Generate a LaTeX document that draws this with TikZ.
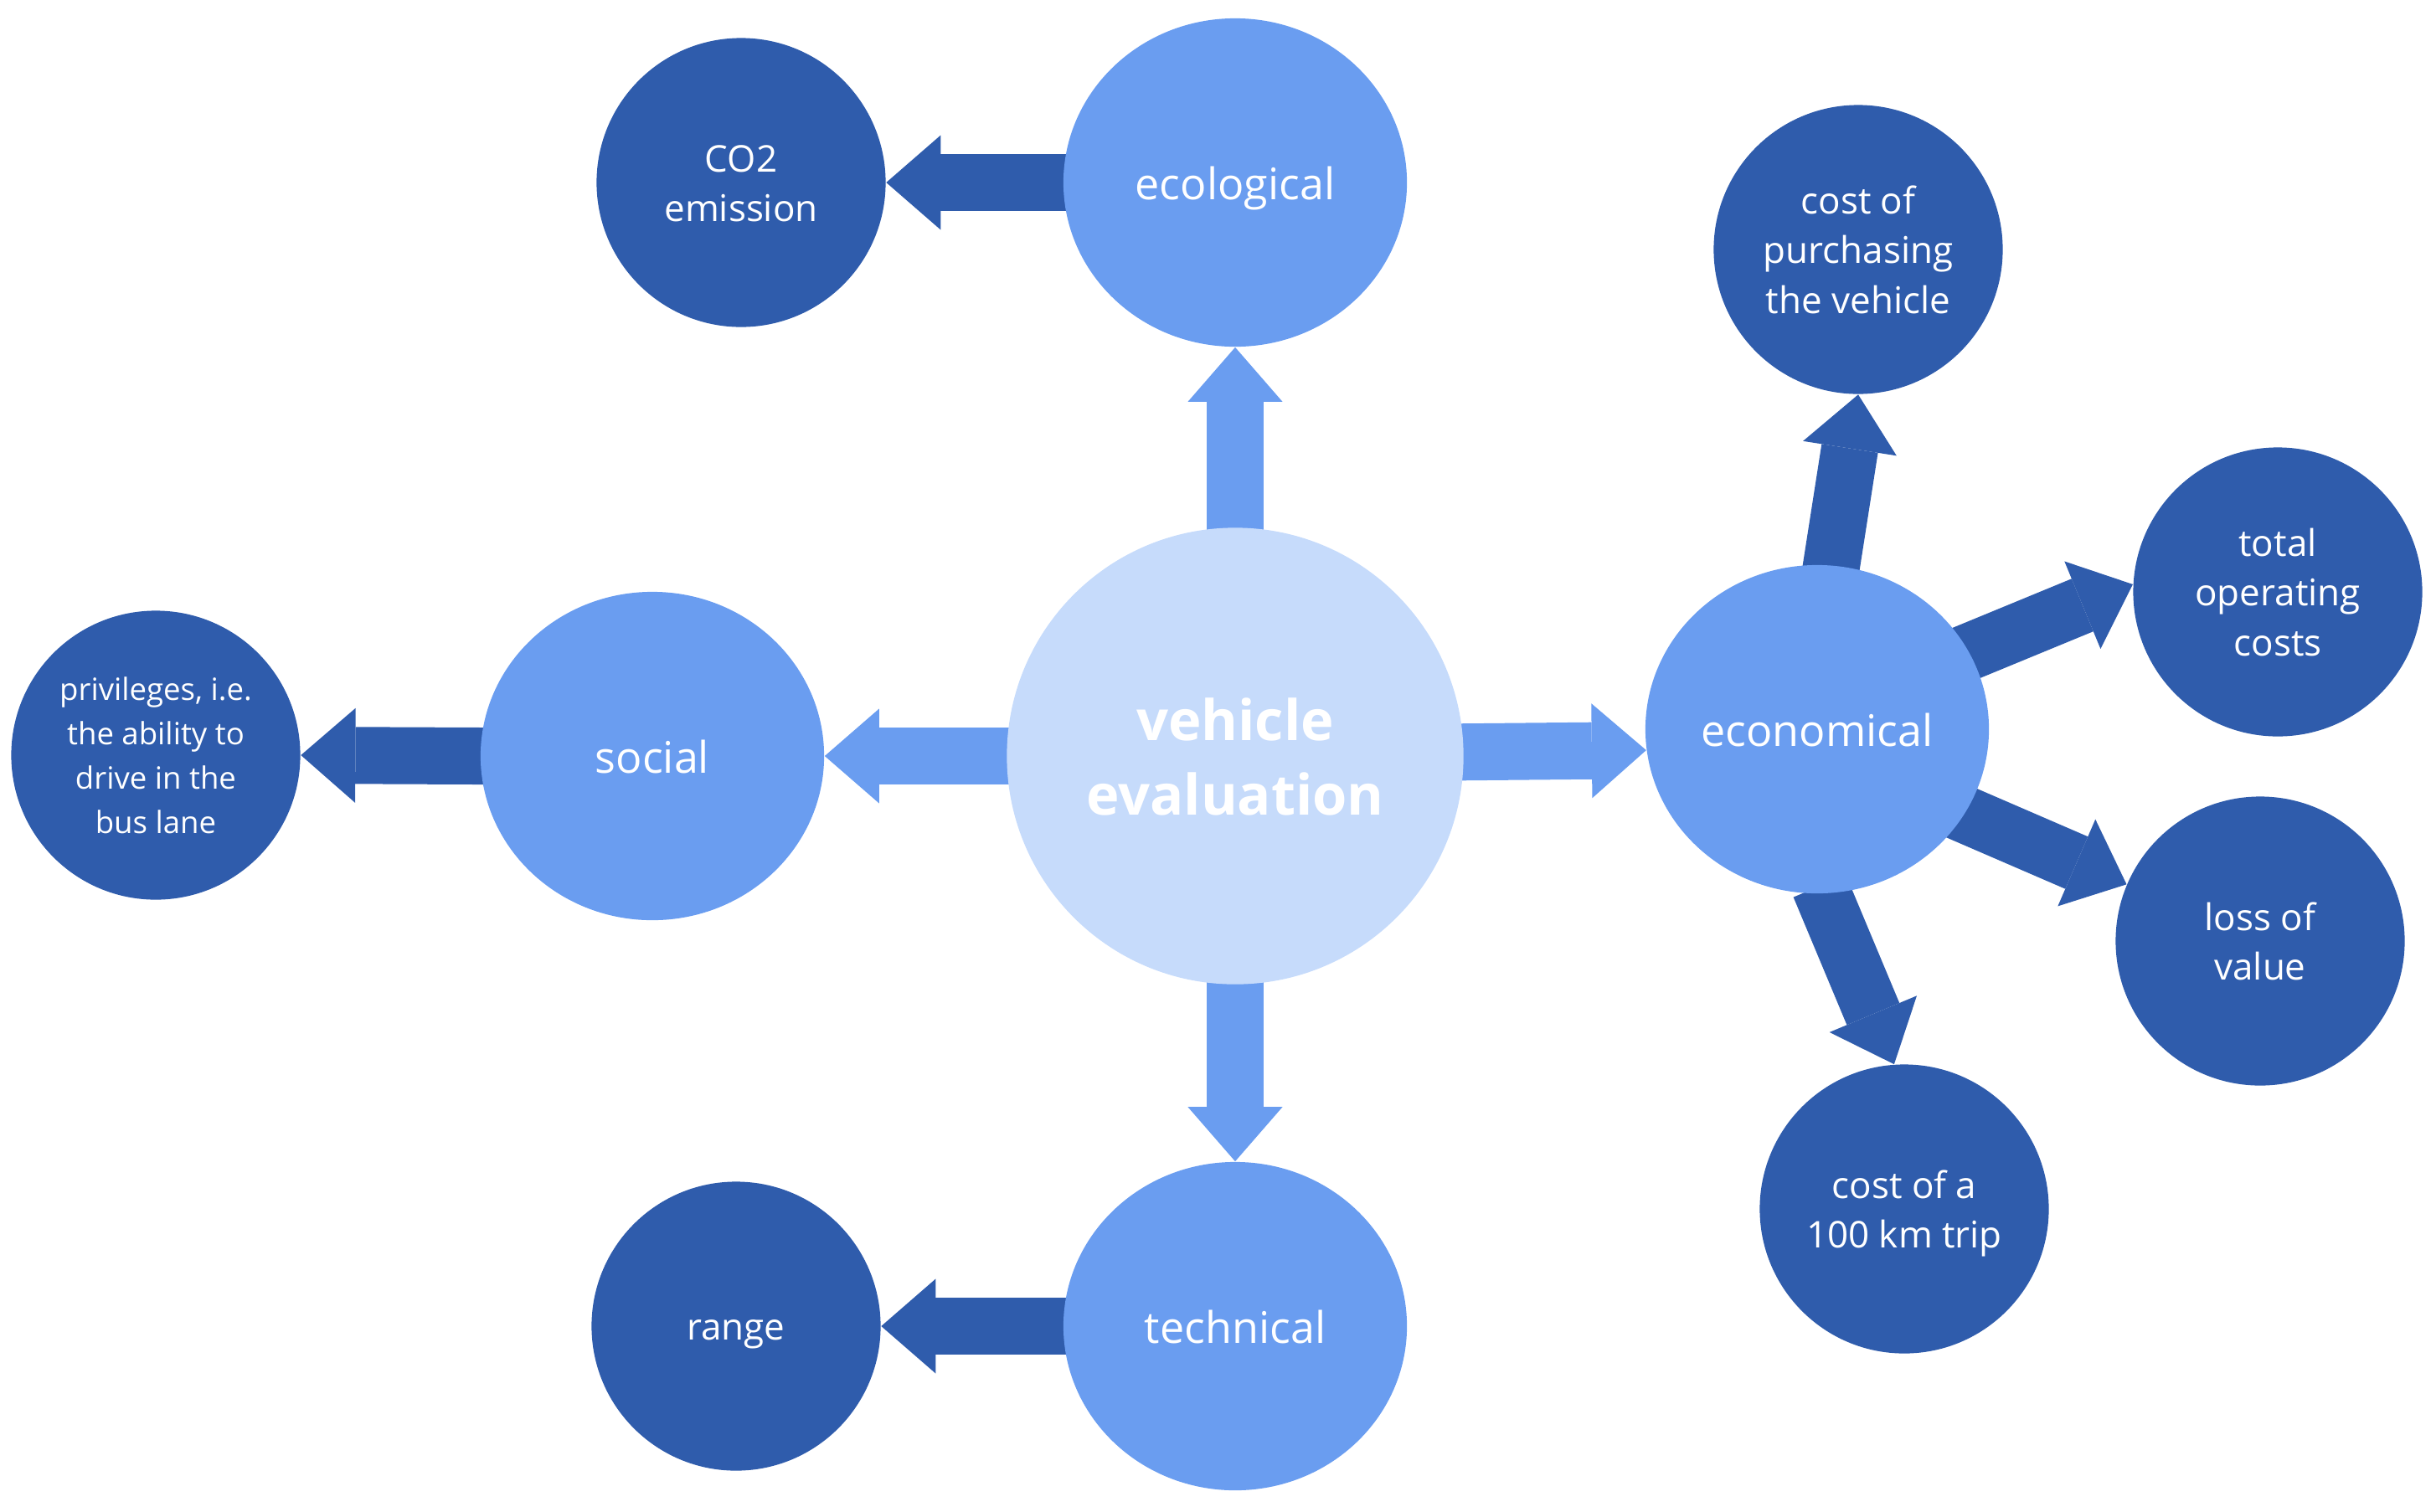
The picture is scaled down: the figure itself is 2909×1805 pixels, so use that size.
\documentclass[tikz,border=0pt]{standalone}
\usepackage{fontspec}
\setmainfont{Open Sans}
\usetikzlibrary{shapes.geometric,arrows.meta,backgrounds}
\definecolor{cLight}{HTML}{C6DBFB}
\definecolor{cMid}{HTML}{6A9DF0}
\definecolor{cDark}{HTML}{2F5CAC}
\newcommand{\fs}{\vrule width 0pt height 1.05em depth 0.28em\relax}
\begin{document}
\begin{tikzpicture}[x=0.01cm,y=-0.01cm,
  hub/.style={circle, fill=cLight, minimum size=5.45cm, inner sep=0pt, text=white,
    font=\fontsize{19}{25.3}\selectfont\bfseries, align=center},
  cat/.style={ellipse, fill=cMid, minimum width=4.1cm, minimum height=3.92cm, inner sep=0pt,
    text=white, font=\fontsize{14.8}{18}\selectfont, align=center},
  leaf/.style={circle, fill=cDark, minimum size=3.45cm, inner sep=0pt, text=white,
    font=\fontsize{12.5}{17}\selectfont, align=center},
  leafsmall/.style={leaf, font=\fontsize{10.4}{15}\selectfont},
  blockarr/.style={line width=0.68cm, -{Triangle[length=0.65cm,width=1.13cm,line width=0pt]}, shorten <=-0.1cm},
  midarr/.style={blockarr, cMid},
  darkarr/.style={blockarr, cDark}]
\useasboundingbox (0,0) rectangle (2909,1805);

\node[hub] (ve) at (1475,903) {\fs vehicle\\\fs evaluation};
\node[cat] (eco) at (1475,218) {\fs ecological};
\node[cat] (soc) at (779,903) {\fs social};
\node[cat] (tech) at (1475,1584) {\fs technical};
\node[cat] (econ) at (2170,871) {\fs economical};

\node[leaf] (co2) at (885,218) {\fs CO2\\\fs emission};
\node[leafsmall] (priv) at (186,902) {\fs privileges, i.e.\\\fs the ability to\\\fs drive in the\\\fs bus lane};
\node[leaf] (range) at (879,1584) {\fs range};
\node[leaf] (purch) at (2219,298) {\fs cost of\\\fs purchasing\\\fs the vehicle};
\node[leaf] (tot) at (2720,707) {\fs total\\\fs operating\\\fs costs};
\node[leaf] (loss) at (2699,1124) {\fs loss of\\\fs value};
\node[leaf] (trip) at (2274,1444) {\fs cost of a\\\fs 100 km trip};

\begin{scope}[on background layer]
  \draw[midarr] (ve.north) -- (eco.south);
  \draw[midarr] (ve.west) -- (soc.east);
  \draw[midarr] (ve.south) -- (tech.north);
  \draw[midarr] (ve.1.5) -- (econ.187);

  \draw[darkarr] (eco.west) -- (co2.east);
  \draw[darkarr] (soc.west) -- (priv.east);
  \draw[darkarr] (tech.west) -- (range.east);

  \draw[darkarr] (econ.85) -- (purch.270);
  \draw[darkarr] (econ.27) -- (tot.177);
  \draw[darkarr] (econ.330) -- (loss.157);
  \draw[darkarr] (econ.272) -- (trip.94);
\end{scope}
\end{tikzpicture}
\end{document}
